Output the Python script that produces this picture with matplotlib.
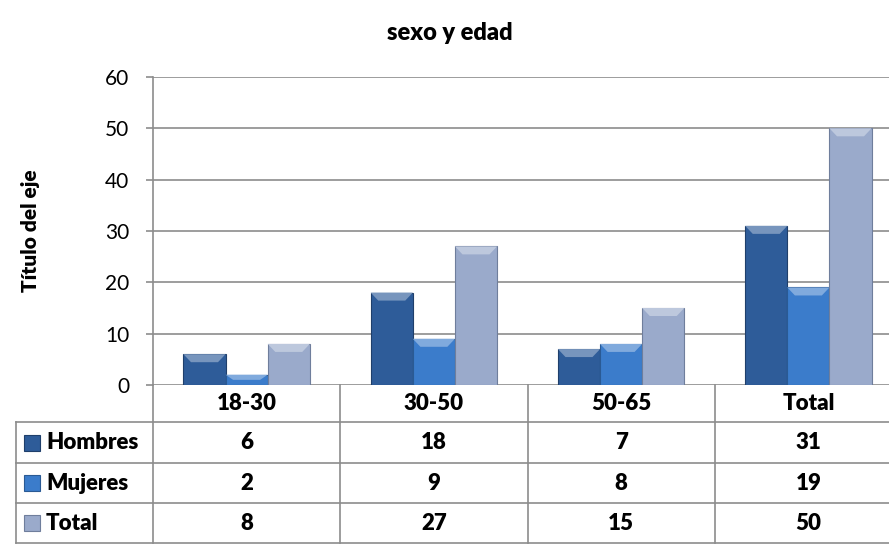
import matplotlib
matplotlib.use("Agg")
import matplotlib.pyplot as plt
import numpy as np
from matplotlib.transforms import blended_transform_factory
from matplotlib.lines import Line2D
from matplotlib.patches import Rectangle, Polygon
from matplotlib.colors import to_rgb

categories = ["18-30", "30-50", "50-65", "Total"]
series_names = ["Hombres", "Mujeres", "Total"]
hombres = [6, 18, 7, 31]
mujeres = [2, 9, 8, 19]
total = [8, 27, 15, 50]
series_colors = ["#2E5C99", "#3B7CCB", "#9AAACB"]
edge_colors = ["#1F3F6B", "#2A5A94", "#6F7E9C"]

W, H = 889, 544
FONT = "Lato"
BOLD = 800
GRID = "#8C8C8C"

fig = plt.figure(figsize=(W / 100, H / 100), dpi=100)


def fx(px):
    return px / W


def fy(py):
    return 1 - py / H


def lighten(c, f):
    r, g, b = to_rgb(c)
    return (r + (1 - r) * f, g + (1 - g) * f, b + (1 - b) * f)


ax = fig.add_axes([fx(153), fy(385), fx(902) - fx(153), fy(77) - fy(385)])
x = np.arange(len(categories))
bw = 0.225
series = [hombres, mujeres, total]
ymax = 60
bevel = 8 / 308 * ymax  # about 8 px of the axis height
for i, (vals, col, ec) in enumerate(zip(series, series_colors, edge_colors)):
    bars = ax.bar(x + (i - 1) * bw, vals, bw, color=col, edgecolor=ec, linewidth=0.8, zorder=3)
    for b in bars:
        x0, w, h = b.get_x(), b.get_width(), b.get_height()
        d = min(bevel, h / 2)
        inset = w * 0.18
        ax.add_patch(Polygon([(x0, h), (x0 + w, h), (x0 + w - inset, h - d), (x0 + inset, h - d)],
                             closed=True, facecolor=lighten(col, 0.35), edgecolor="none", zorder=4))

ax.set_xlim(-0.5, 3.5)
ax.set_ylim(0, ymax)
ax.set_yticks(range(0, 61, 10))
ax.set_xticks([])
ax.yaxis.grid(True, color=GRID, linewidth=1.2, zorder=0)
for side in ["top", "right", "bottom"]:
    ax.spines[side].set_visible(False)
ax.spines["left"].set_color(GRID)
ax.spines["left"].set_linewidth(1.2)
ax.tick_params(axis="y", length=5, width=1.2, color=GRID, labelsize=15, pad=12)
for lab in ax.get_yticklabels():
    lab.set_fontfamily(FONT)

# data table under the axis
trans = blended_transform_factory(ax.transData, fig.transFigure)
row_edges = [385, 422, 463, 503, 543]
for b in np.arange(-0.5, len(categories) - 0.5, 1.0):
    fig.add_artist(Line2D([b, b], [fy(row_edges[0]), fy(row_edges[-1])], transform=trans,
                          color=GRID, linewidth=1.2))
fig.add_artist(Line2D([fx(16), fx(16)], [fy(row_edges[1]), fy(row_edges[-1])],
                      transform=fig.transFigure, color=GRID, linewidth=1.2))
for r in row_edges[1:]:
    fig.add_artist(Line2D([fx(16), 1], [fy(r), fy(r)], transform=fig.transFigure,
                          color=GRID, linewidth=1.2))

header_y = fy((row_edges[0] + row_edges[1]) / 2)
for i, cat in enumerate(categories):
    fig.text(i, header_y, cat, transform=trans, ha="center", va="center",
             fontsize=16, fontweight=BOLD, fontfamily=FONT)

for r, (name, vals, col, ec) in enumerate(zip(series_names, series, series_colors, edge_colors)):
    yc = fy((row_edges[r + 1] + row_edges[r + 2]) / 2)
    fig.add_artist(Rectangle((fx(24), yc - 8 / H), 16 / W, 16 / H, transform=fig.transFigure,
                             facecolor=col, edgecolor=ec, linewidth=0.8))
    fig.text(fx(46), yc, name, ha="left", va="center", fontsize=16,
             fontweight=BOLD, fontfamily=FONT)
    for i, v in enumerate(vals):
        fig.text(i, yc, str(v), transform=trans, ha="center", va="center",
                 fontsize=16, fontweight=BOLD, fontfamily=FONT)

fig.text(fx(30), fy(231), "Título del eje", rotation=90, ha="center", va="center",
         fontsize=15, fontweight=BOLD, fontfamily=FONT)
fig.text(fx(450), fy(33), "sexo y edad", ha="center", va="center",
         fontsize=17, fontweight=BOLD, fontfamily=FONT)

fig.savefig("out.png", dpi=100)
